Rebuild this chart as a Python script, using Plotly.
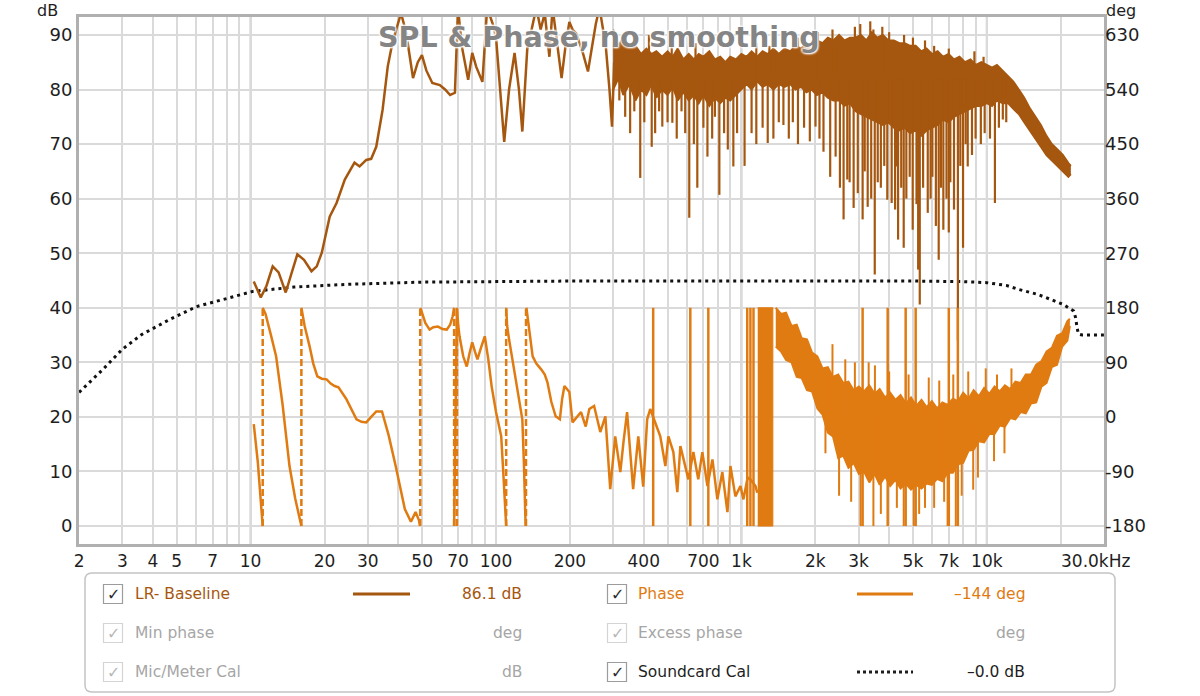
import math
import plotly.graph_objects as go

SPL_COLOR = "#a6570f"
PHASE_COLOR = "#e07b12"
GRID_COLOR = "#dadada"
DECADE_COLOR = "#bcbcbc"
FRAME_COLOR = "#b0b0b0"
FONT = "DejaVu Sans"

# SPL below 300 Hz (Hz, dB)
spl_lf_freq = [10.3, 10.6, 11.0, 11.6, 12.3, 13.0, 13.9, 14.6, 15.5, 16.5,
               17.7, 18.6, 19.5, 21.0, 22.4, 24.2, 26.5, 27.8, 29.6, 31.0,
               32.5, 34.5, 36.2, 37.8, 39.5, 41.0, 43.0, 45.9, 48.0, 49.9,
               52, 55, 59, 62, 65, 68, 70, 72.5, 77, 80,
               83, 88, 92, 97, 100, 104, 108, 113, 119, 124,
               128, 134, 140, 146, 152, 158, 165, 170, 178, 185,
               192, 199, 205, 212, 225, 237, 245, 255, 264, 272,
               280, 290, 297, 303]
spl_lf_db = [44.8, 43.5, 41.9, 44.0, 47.6, 46.5, 42.8, 46.0, 49.8, 48.8,
             46.7, 47.6, 50.1, 56.7, 59.2, 63.5, 66.6, 65.9, 67.1, 67.3,
             69.5, 76.3, 84.2, 88.5, 91.5, 94.0, 90.5, 82.1, 85.0, 86.3,
             83.5, 81.2, 80.8, 80.0, 79.0, 79.4, 95.0, 88.0, 81.8, 86.7,
             84.2, 81.4, 95.0, 92.0, 89.6, 80.0, 70.4, 80.0, 86.7, 80.0,
             72.3, 87.3, 91.0, 95.0, 91.0, 94.0, 86.0, 95.0, 88.0, 82.1,
             88.0, 92.4, 91.0, 90.3, 87.0, 83.3, 87.3, 92.0, 95.0, 91.0,
             88.0, 80.0, 73.2, 85.0]

# SPL above 300 Hz: upper and lower edge of the dense trace
spl_band_freq = [300, 315, 330, 350, 370, 390, 410, 430, 450, 475,
                 500, 525, 550, 580, 610, 640, 670, 700, 740, 780,
                 820, 860, 900, 950, 1000, 1050, 1100, 1160, 1220, 1280,
                 1350, 1420, 1500, 1580, 1660, 1750, 1840, 1930, 2030, 2140,
                 2250, 2370, 2500, 2630, 2770, 2920, 3070, 3230, 3400, 3580,
                 3770, 3970, 4180, 4400, 4630, 4870, 5130, 5400, 5680, 5980,
                 6300, 6630, 6980, 7350, 7740, 8150, 8580, 9030, 9500, 10000,
                 10500, 11000, 11600, 12200, 12800, 13500, 14200, 15000, 15800, 16600,
                 17500, 18400, 19400, 20400, 21500, 22000]
spl_band_top = [91, 88, 89.5, 87.5, 88, 86.5, 87.5, 86.5, 87, 86,
                87, 86, 87.5, 85.5, 86.5, 85.5, 86.5, 86, 87, 85.5,
                86, 85, 86, 85.5, 86.5, 86, 87, 86, 87, 86.5,
                87.5, 86.5, 87.5, 87, 88, 87.5, 88.5, 88, 89, 88.5,
                89.5, 89, 90, 89, 89.5, 89.5, 90, 89, 90.5, 89.5,
                90, 89, 89, 88.5, 88.5, 88, 88, 87, 87.5, 86.5,
                87, 86, 86.5, 85.5, 86, 85, 85.5, 84.5, 85, 84.5,
                84, 84.5, 83.5, 82.5, 81.5, 80, 78.5, 76.5, 75, 73.5,
                71.5, 70, 69, 68, 66.5, 66]
spl_band_low = [80, 82, 79, 81, 78, 80, 79, 81, 78.5, 80,
                79, 80.5, 78, 79.5, 78, 79, 77.5, 79, 77, 78.5,
                77.5, 78.5, 78, 79, 80, 81, 80, 81.5, 80.5, 81,
                80, 81, 80.5, 81, 80, 80.5, 79.5, 80, 79, 79.5,
                78.5, 78, 78, 77, 77.5, 76, 75.5, 75, 74.5, 74,
                73.5, 74, 73, 72.5, 73, 72, 72.5, 71.5, 72.5, 73,
                73.5, 74.5, 74, 75, 75.5, 76, 76.5, 77, 77, 77.5,
                77, 78, 77.5, 77.5, 76.5, 75.5, 74, 72.5, 71, 69.5,
                68, 67, 66, 65, 64, 64.5]

# narrow SPL notches (Hz, dB at the bottom of the notch)
spl_dip_freq = [318, 336, 352, 366, 387, 402, 431, 445, 462, 476,
                500, 523, 545, 570, 590, 613, 640, 661, 700, 727,
                760, 780, 813, 850, 880, 927, 960, 1030, 1100, 1150,
                1220, 1280, 1350, 1420, 1483, 1560, 1620, 1700, 1800, 1900,
                2004, 2080, 2160, 2300, 2420, 2520, 2608, 2700, 2760, 2866,
                2980, 3118, 3180, 3270, 3380, 3494, 3593, 3700, 3820, 3930,
                4095, 4230, 4295, 4350, 4480, 4585, 4700, 4850, 4988, 5170,
                5250, 5330, 5500, 5745, 5900, 6000, 6200, 6367, 6500, 6650,
                6850, 6998, 7100, 7350, 7622, 7800, 8000, 8200, 8360, 8700,
                9000, 9455, 9800, 10300, 10790, 11200, 11620, 12000]
spl_dip_db = [78, 75, 72, 76, 63.8, 74, 69.5, 72, 76, 73.2,
              74, 73.9, 71, 76, 72, 56.5, 70, 62, 73, 67.7,
              71, 75, 60.7, 72, 69, 65.9, 72, 66, 72, 70,
              73, 70.2, 71, 74, 73.5, 71, 74, 70, 73, 70.5,
              73.2, 71, 68.6, 64, 67.7, 62, 56.2, 63.5, 63, 58.3,
              61, 56.2, 65, 58.5, 60, 46.1, 63, 62, 66, 59.8,
              59.2, 58, 65.9, 52.5, 62, 51, 60, 64, 54.3, 59,
              47, 40.6, 62, 57.4, 60, 64, 55, 48.8, 62, 54.3,
              60, 53.8, 63, 58, 34, 66, 51, 70, 65.9, 68,
              71, 70, 72, 71, 59.2, 73, 74.5, 74]

# narrow SPL peaks above the dense trace (Hz, dB at the tip)
spl_peak_freq = [420, 520, 650, 1150, 1300, 1700, 2050, 2350, 2480, 2900,
                 3050, 3350, 3450, 3750, 4000, 4600, 5000, 5600, 6100, 7000,
                 8900, 9700]
spl_peak_db = [90, 89, 88.5, 88.5, 88, 89.5, 90.5, 91, 89.5, 91.5,
               92, 92.5, 91, 91.5, 90.5, 90, 89.5, 89, 88, 87.5,
               87, 86]

# wrapped phase (Hz, deg), None marks a wrap
phase_freq = [10.3, 10.7, 11.2, None,
              11.2, 11.5, 12.1, 12.7, 13.5, 14.4, 15.2, 16.1, None,
              16.1, 16.6, 17.4, 18.0, 18.7, 19.5, 20.4, 21.2, 22.0, 22.8,
              24.5, 27.0, 28.3, 29.6, 31.0, 32.5, 34.3, 36.5, 39.0, 40.8,
              42.5, 45.0, 47.0, 48.5, 49.0, None,
              49.2, 49.9, 51.5, 53.6, 55.5, 58.0, 60.5, 63.0, 65.0, 66.6, 67.5, None,
              67.5, 69.3, 70.2, 71.0, 73.5, 76.0, 78.0, 80.0, 82.0, 84.0,
              87, 90, 93, 96, 100, 103, 105, 107, 108, 110, None,
              110, 111, 113, 117, 121, 125, 128, 130, 132, None,
              133, 137, 141, 146, 150, 153, 158, 162, 168, 175,
              182, 186, 190, 195, 199, 205, 213, 222, 232, 240,
              251, 258, 266, 279, 285, 292, 306, 321, 331, 342,
              362, 380, 398, 413, 425, 446, 467, 490, 504, 528,
              548, 564, 591, 608, 637, 667, 693, 727, 762, 798,
              836, 877, 902, 945, 991, 1019, 1060, 1088, 1141, 1160]
phase_deg = [-12, -75, -180, None,
             180, 170, 135, 100, 20, -81, -135, -180, None,
             180, 150, 116, 88, 67, 63, 62, 55, 51, 49,
             30, -4, -8, -9, 0, 9, 9, -30, -81, -120,
             -152, -173, -157, -170, -180, None,
             180, 172, 155, 144, 148, 149, 145, 144, 152, 166, 180, None,
             -180, 180, 150, 133, 100, 83, 105, 123, 108, 95,
             115, 133, 95, 50, 8, -20, -32, -90, -120, -180, None,
             180, 150, 128, 90, 51, 20, -4, -80, -180, None,
             180, 140, 100, 88, 83, 78, 70, 57, 25, 1,
             -4, 30, 51, 45, 41, -9, 0, 8, -16, 13,
             18, -5, -25, 1, -60, -119, -32, -91, -40, 8,
             -119, -32, -115, -4, 13, -10, -32, -81, -32, -58,
             -124, -48, -81, -103, -58, -103, -58, -114, -70, -136,
             -91, -157, -81, -131, -114, -136, -100, -103, -114, -125]

phase_wrap_freq = [11.2, 16.1, 49.1, 67.5, 69.3, 110, 132.5]
phase_spike_freq = [437, 619, 733, 1056, 1088, 1120, 3118, 3945, 4670, 5130, 7000, 7620]
phase_block_freq = [1165, 1343]

# phase above 1.4 kHz: upper and lower edge of the dense trace
phase_band_freq = [1380, 1450, 1520, 1600, 1680, 1760, 1850, 1940, 2040, 2140,
                   2250, 2360, 2480, 2600, 2730, 2870, 3010, 3160, 3320, 3490,
                   3660, 3850, 4040, 4240, 4450, 4680, 4910, 5160, 5420, 5690,
                   5970, 6270, 6590, 6920, 7270, 7630, 8010, 8420, 8840, 9280,
                   9750, 10240, 10750, 11290, 11850, 12450, 13070, 13730, 14410, 15140,
                   15890, 16690, 17520, 18400, 19320, 20290, 21300, 21800]
phase_band_top = [180, 170, 172, 150, 152, 130, 128, 106, 100, 80,
                  82, 66, 70, 56, 58, 44, 50, 42, 52, 38,
                  46, 32, 40, 28, 36, 22, 32, 18, 28, 16,
                  26, 14, 24, 20, 30, 26, 40, 30, 44, 34,
                  48, 38, 50, 42, 52, 46, 58, 56, 70, 70,
                  86, 92, 108, 114, 134, 138, 158, 162]
phase_band_low = [116, 108, 94, 90, 66, 64, 44, 42, 14, 4,
                  -26, -32, -68, -64, -84, -76, -94, -90, -108, -94,
                  -112, -98, -114, -104, -118, -110, -120, -112, -118, -110,
                  -112, -102, -106, -92, -92, -78, -76, -56, -54, -40,
                  -42, -28, -28, -14, -16, -2, -4, 8, 6, 22,
                  24, 50, 56, 82, 86, 116, 126, 150]

# single phase spurs out of the dense trace (deg at the tip)
phase_spur_freq = [2200, 2350, 2500, 2650, 2800, 2900, 3060, 3300, 3450, 3500,
                   3700, 4000, 4300, 4585, 4800, 5040, 5300, 5600, 5800, 6100,
                   6400, 6700, 6920, 7300, 7475, 7900, 8400, 8800, 9200, 9900,
                   10700, 11000, 11800, 12600]
phase_spur_deg = [-60, 120, -130, 95, -140, 90, -180, 90, -180, 85,
                  -160, 75, -150, -180, 70, -180, -160, -150, 65, -150,
                  60, -140, -180, 70, -180, -130, 75, -120, -100, 80,
                  -73, 70, -60, 80]

# soundcard calibration (Hz, dB)
cal_freq = [2.0, 2.5, 3.0, 3.6, 4.7, 6.0, 7.7, 10.2, 15, 25,
            50, 200, 5000, 8000, 10000, 12000, 13400, 16000, 18300, 20500,
            22600, 23000, 23300, 23600, 24500, 30000]
cal_db = [24.5, 28.7, 32.4, 35.1, 37.9, 40.2, 41.5, 43.0, 43.8, 44.3,
          44.7, 44.9, 44.9, 44.8, 44.6, 44.1, 43.4, 42.5, 41.5, 40.6,
          39.4, 38.2, 36.5, 35.2, 35.0, 35.0]

x_label_vals = [2, 3, 4, 5, 7, 10, 20, 30, 50, 70, 100, 200, 400, 700,
                1000, 2000, 3000, 5000, 7000, 10000]
x_label_text = ["2", "3", "4", "5", "7", "10", "20", "30", "50", "70", "100", "200", "400", "700",
                "1k", "2k", "3k", "5k", "7k", "10k"]
x_end_label = "30.0kHz"
decades = [10, 100, 1000, 10000]
db_ticks = [0, 10, 20, 30, 40, 50, 60, 70, 80, 90]
deg_ticks = [-180, -90, 0, 90, 180, 270, 360, 450, 540, 630]

legend_left = ["LR- Baseline", "Min phase", "Mic/Meter Cal"]
legend_left_val = ["86.1 dB", "deg", "dB"]
legend_right = ["Phase", "Excess phase", "Soundcard Cal"]
legend_right_val = ["\u2013144 deg", "deg", "\u20130.0 dB"]

W, H = 1200, 696
L, R, T, B = 79, 96, 17, 152


def px_x(x):
    return (x - L) / (W - L - R)


def px_y(y):
    return (H - B - y) / (H - T - B)


def spikes(freqs, start, ends):
    xs, ys = [], []
    for f, e in zip(freqs, ends):
        xs += [f, f, None]
        ys += [start, e, None]
    return xs, ys


fig = go.Figure()

# soundcard cal, dotted
fig.add_trace(go.Scatter(x=cal_freq, y=cal_db, mode="lines",
                         line=dict(color="#111111", width=3, dash="3px,4px")))

# phase
fig.add_trace(go.Scatter(x=phase_freq, y=phase_deg, yaxis="y2", mode="lines",
                         line=dict(color=PHASE_COLOR, width=2.5), connectgaps=False))
wx, wy = spikes(phase_wrap_freq, -180, [180] * len(phase_wrap_freq))
fig.add_trace(go.Scatter(x=wx, y=wy, yaxis="y2", mode="lines",
                         line=dict(color=PHASE_COLOR, width=2.5, dash="7px,3px")))
sx, sy = spikes(phase_spike_freq, -180, [180] * len(phase_spike_freq))
fig.add_trace(go.Scatter(x=sx, y=sy, yaxis="y2", mode="lines",
                         line=dict(color=PHASE_COLOR, width=2.5)))
bx = [phase_block_freq[0], phase_block_freq[1], phase_block_freq[1], phase_block_freq[0]]
fig.add_trace(go.Scatter(x=bx, y=[-180, -180, 180, 180], yaxis="y2", mode="lines",
                         fill="toself", fillcolor=PHASE_COLOR,
                         line=dict(color=PHASE_COLOR, width=1)))
fig.add_trace(go.Scatter(x=phase_band_freq, y=phase_band_top, yaxis="y2", mode="lines",
                         line=dict(color=PHASE_COLOR, width=2)))
fig.add_trace(go.Scatter(x=phase_band_freq, y=phase_band_low, yaxis="y2", mode="lines",
                         fill="tonexty", fillcolor=PHASE_COLOR,
                         line=dict(color=PHASE_COLOR, width=2)))
px_, py_ = spikes(phase_spur_freq, 0, phase_spur_deg)
fig.add_trace(go.Scatter(x=px_, y=py_, yaxis="y2", mode="lines",
                         line=dict(color=PHASE_COLOR, width=2)))

# SPL
fig.add_trace(go.Scatter(x=spl_lf_freq, y=spl_lf_db, mode="lines",
                         line=dict(color=SPL_COLOR, width=2.5)))
fig.add_trace(go.Scatter(x=spl_band_freq, y=spl_band_top, mode="lines",
                         line=dict(color=SPL_COLOR, width=2)))
fig.add_trace(go.Scatter(x=spl_band_freq, y=spl_band_low, mode="lines",
                         fill="tonexty", fillcolor=SPL_COLOR,
                         line=dict(color=SPL_COLOR, width=2)))
dx, dy = spikes(spl_dip_freq + spl_peak_freq, 82, spl_dip_db + spl_peak_db)
fig.add_trace(go.Scatter(x=dx, y=dy, mode="lines",
                         line=dict(color=SPL_COLOR, width=2.2)))

# grid: every 1..9 multiple, labels only on some
grid_vals = [m * 10 ** e for e in range(0, 5) for m in range(1, 10) if 2 <= m * 10 ** e <= 30000]
grid_text = [x_label_text[x_label_vals.index(v)] if v in x_label_vals else "" for v in grid_vals]

shapes = []
for d in decades:
    shapes.append(dict(type="line", xref="x", yref="paper", x0=d, x1=d, y0=0, y1=1,
                       layer="between", line=dict(color=DECADE_COLOR, width=2)))

annotations = [
    dict(text="<b>SPL & Phase, no smoothing</b>", x=px_x(599), y=px_y(38), xref="paper", yref="paper",
         showarrow=False, xanchor="center", yanchor="middle",
         font=dict(family=FONT, size=28.5, color="#858585",
                   shadow="0px 0px 2px white, 0px 0px 3px white, 1px 1px 2px white, -1px -1px 2px white")),
    dict(text="dB", x=px_x(47), y=px_y(10), xref="paper", yref="paper", showarrow=False,
         xanchor="center", yanchor="middle", font=dict(family=FONT, size=16, color="#1e1e1e")),
    dict(text="deg", x=px_x(1121), y=px_y(10), xref="paper", yref="paper", showarrow=False,
         xanchor="center", yanchor="middle", font=dict(family=FONT, size=16, color="#1e1e1e")),
    dict(text=x_end_label, x=px_x(1095), y=px_y(561), xref="paper", yref="paper", showarrow=False,
         xanchor="center", yanchor="middle", font=dict(family=FONT, size=17, color="#1e1e1e")),
]

# legend panel below the plot
x0, x1, y0, y1 = px_x(85), px_x(1115), px_y(692), px_y(573)
rx, ry = 7 / (W - L - R), 7 / (H - T - B)
path = (f"M {x0 + rx},{y0} L {x1 - rx},{y0} Q {x1},{y0} {x1},{y0 + ry} "
        f"L {x1},{y1 - ry} Q {x1},{y1} {x1 - rx},{y1} L {x0 + rx},{y1} "
        f"Q {x0},{y1} {x0},{y1 - ry} L {x0},{y0 + ry} Q {x0},{y0} {x0 + rx},{y0} Z")
shapes.append(dict(type="path", path=path, xref="paper", yref="paper",
                   line=dict(color="#c4c4c4", width=1.5), fillcolor="white"))

row_y = [594, 633, 672]
grey = "#a6a6a6"
columns = [
    (113, 133, 524, 353, 410, legend_left, legend_left_val,
     [SPL_COLOR, grey, grey], [True, False, False]),
    (617, 636, 1027, 857, 913, legend_right, legend_right_val,
     [PHASE_COLOR, grey, "#1e1e1e"], [True, False, True]),
]
for cb_x, lab_x, val_x, ln0, ln1, names, vals, colors, active in columns:
    for i, yy in enumerate(row_y):
        shapes.append(dict(type="rect", xref="paper", yref="paper",
                           x0=px_x(cb_x - 9.5), x1=px_x(cb_x + 9.5),
                           y0=px_y(yy + 9.5), y1=px_y(yy - 9.5),
                           line=dict(color="#9c9c9c" if active[i] else "#d4d4d4", width=1.2),
                           fillcolor="white"))
        annotations.append(dict(text="\u2713", x=px_x(cb_x), y=px_y(yy), xref="paper", yref="paper",
                                showarrow=False, xanchor="center", yanchor="middle",
                                font=dict(family=FONT, size=16,
                                          color="#2a2a2a" if active[i] else "#b8b8b8")))
        annotations.append(dict(text=names[i], x=px_x(lab_x), y=px_y(yy), xref="paper", yref="paper",
                                showarrow=False, xanchor="left", yanchor="middle",
                                font=dict(family=FONT, size=15.5, color=colors[i])))
        annotations.append(dict(text=vals[i], x=px_x(val_x), y=px_y(yy), xref="paper", yref="paper",
                                showarrow=False, xanchor="right", yanchor="middle",
                                font=dict(family=FONT, size=15.5, color=colors[i])))
        if active[i]:
            dash = "solid" if colors[i] != "#1e1e1e" else "3px,3px"
            shapes.append(dict(type="line", xref="paper", yref="paper",
                               x0=px_x(ln0), x1=px_x(ln1), y0=px_y(yy), y1=px_y(yy),
                               line=dict(color=colors[i], width=3, dash=dash)))

fig.update_layout(
    width=W, height=H,
    margin=dict(l=L, r=R, t=T, b=B),
    paper_bgcolor="white", plot_bgcolor="white",
    showlegend=False,
    font=dict(family=FONT, size=18, color="#1e1e1e"),
    xaxis=dict(type="log", range=[math.log10(2) - 0.0004, math.log10(30000) + 0.0004],
               tickvals=grid_vals, ticktext=grid_text, showgrid=True,
               gridcolor=GRID_COLOR, gridwidth=2, zeroline=False,
               showline=True, mirror=True, linecolor=FRAME_COLOR, linewidth=3,
               ticks="",
               tickfont=dict(family=FONT, size=17, color="#1e1e1e")),
    yaxis=dict(range=[-3.29, 93.29], tickvals=db_ticks, showgrid=True,
               gridcolor=GRID_COLOR, gridwidth=2, zeroline=False,
               showline=True, mirror=True, linecolor=FRAME_COLOR, linewidth=3,
               ticks="",
               tickfont=dict(family=FONT, size=18, color="#1e1e1e")),
    yaxis2=dict(range=[-209.6, 659.6], overlaying="y", side="right",
                tickvals=deg_ticks, ticktext=[str(v) for v in deg_ticks],
                showgrid=False, zeroline=False, showline=False,
                ticks="",
                tickfont=dict(family=FONT, size=18, color="#1e1e1e")),
    shapes=shapes,
    annotations=annotations,
)

# the page body has a default 8px margin; drop it so the figure sits at 0,0
fig.write_html("out.html", config={"displayModeBar": False},
               post_script="document.body.style.margin='0px';")
